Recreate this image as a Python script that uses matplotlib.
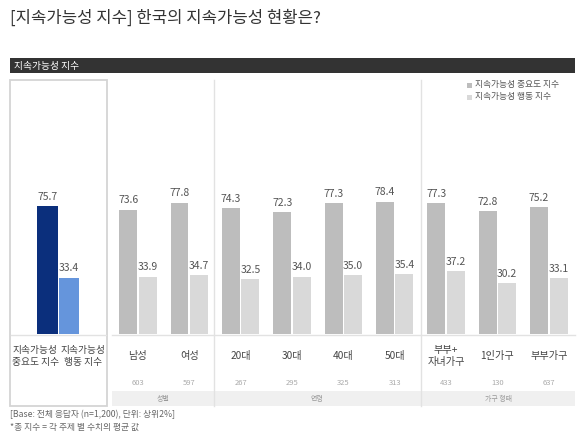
import matplotlib.pyplot as plt
import matplotlib.transforms as mtransforms
from matplotlib.patches import Rectangle
from matplotlib.lines import Line2D

plt.rcParams['font.family'] = ['Noto Sans CJK KR', 'DejaVu Sans']

# --- Data ---
total_labels = ['지속가능성\n중요도 지수', '지속가능성\n행동 지수']
total_values = [75.7, 33.4]

categories = ['남성', '여성', '20대', '30대', '40대', '50대', '부부+\n자녀가구', '1인가구', '부부가구']
importance = [73.6, 77.8, 74.3, 72.3, 77.3, 78.4, 77.3, 72.8, 75.2]
behavior = [33.9, 34.7, 32.5, 34.0, 35.0, 35.4, 37.2, 30.2, 33.1]
base_n = [603, 597, 267, 295, 325, 313, 433, 130, 637]
group_names = ['성별', '연령', '가구 형태']
series_names = ['지속가능성 중요도 지수', '지속가능성 행동 지수']

# --- Layout helpers (pixel -> figure fraction) ---
W, H = 580, 433
def fx(px):
	return px / W
def fy(py):
	return 1 - py / H

fig = plt.figure(figsize=(W / 100, H / 100), dpi=100)
fig.patch.set_facecolor('white')

# title and header band
fig.text(fx(10), fy(18), '[지속가능성 지수] 한국의 지속가능성 현황은?', fontsize=12,
	color='#333333', va='center', ha='left')
fig.patches.append(Rectangle((fx(10), fy(73)), fx(565), 15 / H, transform=fig.transFigure,
	facecolor='#333333', edgecolor='none'))
fig.text(fx(14), fy(65.5), '지속가능성 지수', fontsize=7, color='white', va='center', ha='left')

# left box, group band, separators
fig.patches.append(Rectangle((fx(10), fy(406)), fx(97), 326 / H, transform=fig.transFigure,
	facecolor='none', edgecolor='#d4d4d4', lw=1.3))
fig.patches.append(Rectangle((fx(112), fy(406)), fx(463), 15 / H, transform=fig.transFigure,
	facecolor='#f0f0f0', edgecolor='none'))
for sx in [214, 421]:
	fig.lines.append(Line2D([fx(sx), fx(sx)], [fy(80), fy(406)], transform=fig.transFigure,
		color='#e2e2e2', lw=1))
fig.lines.append(Line2D([fx(112), fx(575)], [fy(334.5), fy(334.5)], transform=fig.transFigure,
	color='#e2e2e2', lw=1))
fig.lines.append(Line2D([fx(11), fx(106)], [fy(334.5), fy(334.5)], transform=fig.transFigure,
	color='#e2e2e2', lw=1))

# --- Bars ---
ax = fig.add_axes([fx(10), fy(334), fx(565), (334 - 80) / H])
ax.set_xlim(-1.49, 9.51)
ax.set_ylim(0, 150.3)
ax.axis('off')

total_x = -0.55
w_tot = 0.4
ax.bar([total_x - 0.21, total_x + 0.21], total_values, width=w_tot,
	color=['#0b2f7c', '#6595dc'])
for xx, v in zip([total_x - 0.21, total_x + 0.21], total_values):
	ax.text(xx, v + 2.5, f'{v:.1f}', ha='center', va='bottom', fontsize=7.5, color='#555555')

xs = list(range(1, len(categories) + 1))
w = 0.35
off = 0.19
ax.bar([x - off for x in xs], importance, width=w, color='#bdbdbd')
ax.bar([x + off for x in xs], behavior, width=w, color='#d9d9d9')
for x, a, b in zip(xs, importance, behavior):
	ax.text(x - off, a + 2.5, f'{a:.1f}', ha='center', va='bottom', fontsize=7.5, color='#555555')
	ax.text(x + off, b + 2.5, f'{b:.1f}', ha='center', va='bottom', fontsize=7.5, color='#555555')

# category / base labels below
trans = mtransforms.blended_transform_factory(ax.transData, fig.transFigure)
for xx, lab in zip([-1.0, -0.07], total_labels):
	ax.text(xx, fy(356), lab, transform=trans, ha='center', va='center', fontsize=7,
		color='#444444', linespacing=1.15, clip_on=False)
for x, lab, n in zip(xs, categories, base_n):
	ax.text(x, fy(356), lab, transform=trans, ha='center', va='center', fontsize=7.3,
		color='#444444', linespacing=1.15, clip_on=False)
	ax.text(x, fy(383), str(n), transform=trans, ha='center', va='center', fontsize=5.5,
		color='#aaaaaa', clip_on=False)

for gx, g in zip([163, 317, 498], group_names):
	fig.text(fx(gx), fy(398.5), g, ha='center', va='center', fontsize=5, color='#999999')

# legend
for i, (name, c) in enumerate(zip(series_names, ['#bdbdbd', '#d9d9d9'])):
	yy = 85 + i * 12
	fig.patches.append(Rectangle((fx(467), fy(yy + 2.5)), fx(5), 5 / H, transform=fig.transFigure,
		facecolor=c, edgecolor='none'))
	fig.text(fx(475), fy(yy), name, ha='left', va='center', fontsize=6.3, color='#555555')

# footnotes
fig.text(fx(10), fy(415), '[Base: 전체 응답자 (n=1,200), 단위: 상위2%]', ha='left', va='center',
	fontsize=6.3, color='#666666')
fig.text(fx(10), fy(427), '*총 지수 = 각 주제 별 수치의 평균 값', ha='left', va='center',
	fontsize=6.3, color='#666666')

fig.savefig('out.png', dpi=100)
